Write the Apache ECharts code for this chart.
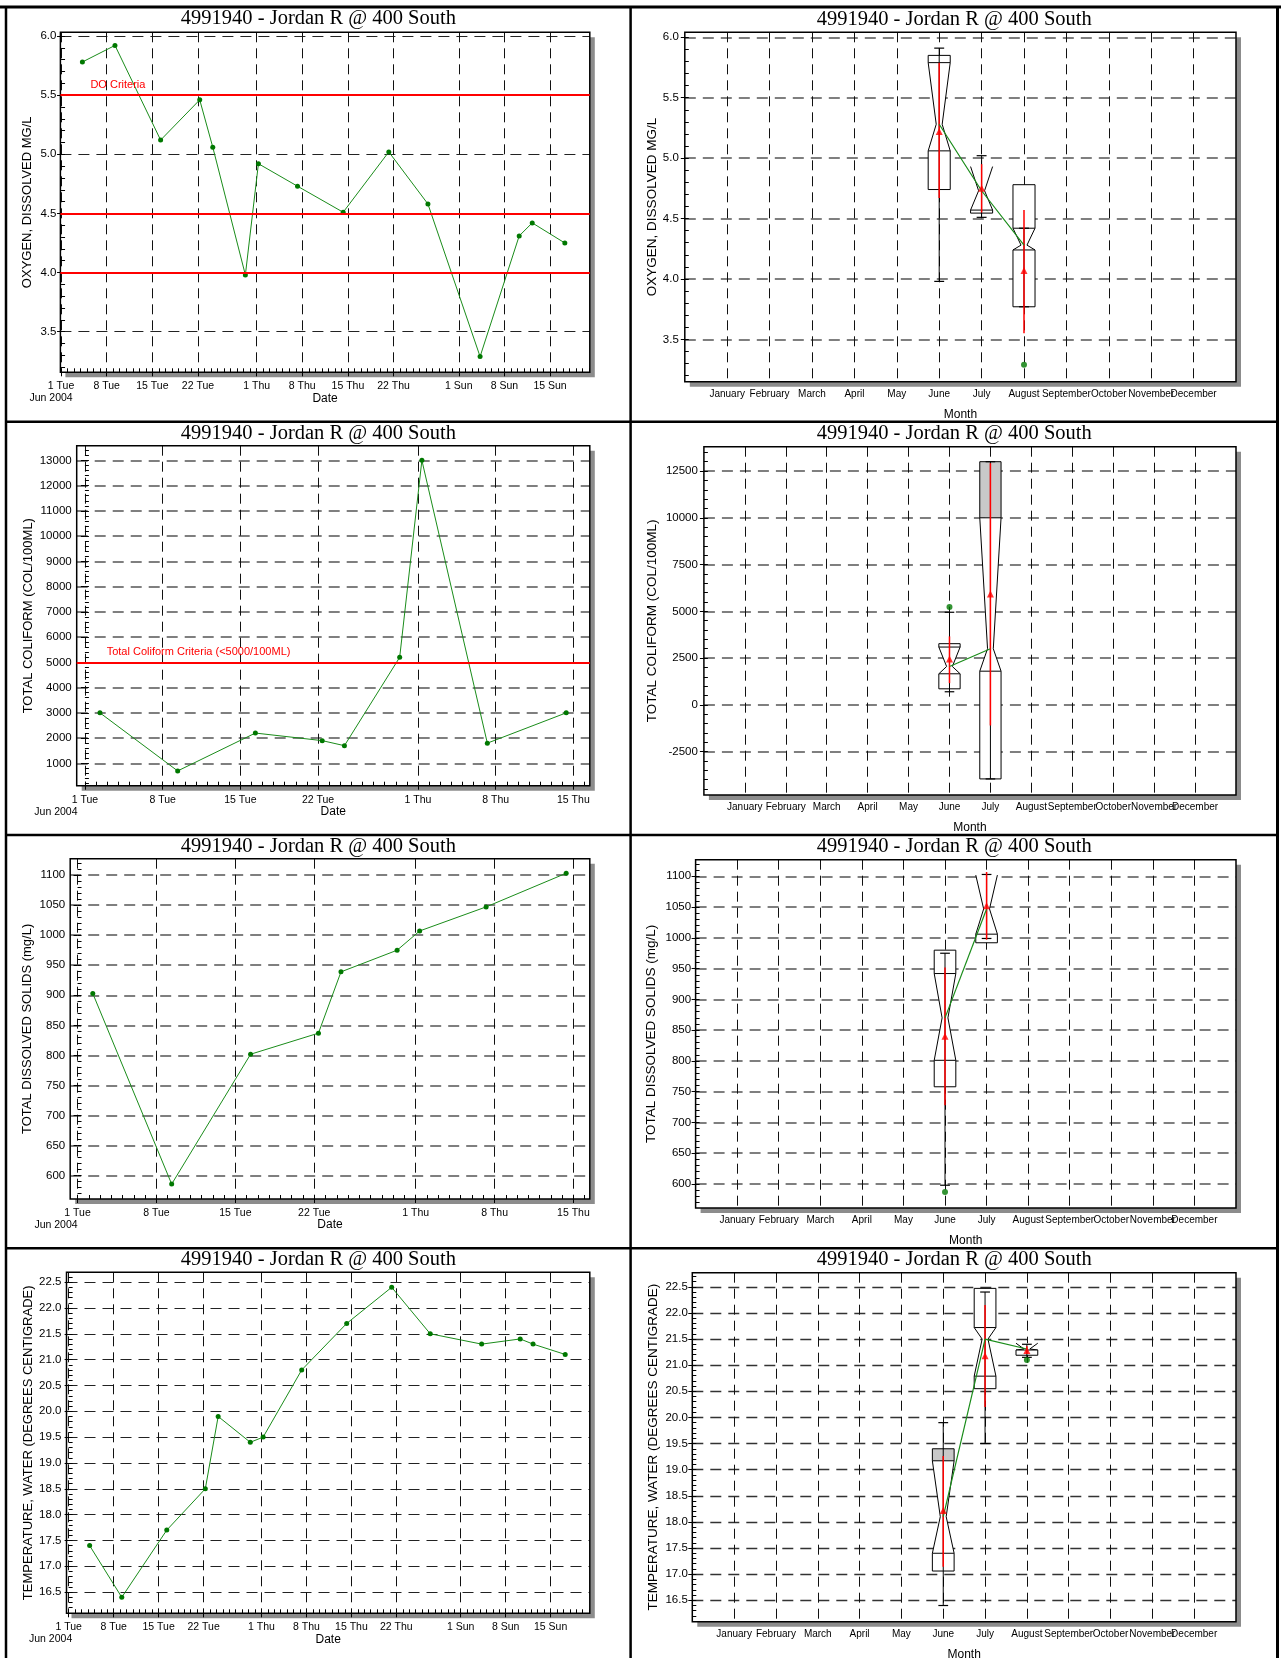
<!DOCTYPE html>
<html>
<head>
<meta charset="utf-8">
<script src="https://cdn.jsdelivr.net/npm/echarts@6/dist/echarts.min.js"></script>
<style>
  html, body { margin: 0; padding: 0; background: #fff; }
  #chart { width: 1281px; height: 1658px; }
</style>
</head>
<body>
<div id="chart"></div>
<script>
// ---- data ----
const stationTitle = '4991940 - Jordan R @ 400 South';

// field samples (DO, temperature)
const fieldDates = ['2004-06-04 06:30', '2004-06-09 06:30', '2004-06-16 06:30', '2004-06-22 06:30', '2004-06-24 06:30',
  '2004-06-29 06:30', '2004-07-01 06:30', '2004-07-07 06:30', '2004-07-14 06:30', '2004-07-21 06:30',
  '2004-07-27 06:30', '2004-08-04 06:30', '2004-08-10 06:30', '2004-08-12 06:30', '2004-08-17 06:30'];
const oxygen = [5.78, 5.92, 5.12, 5.46, 5.06, 3.98, 4.92, 4.73, 4.51, 5.02, 4.58, 3.29, 4.31, 4.42, 4.25];
const temperature = [17.4, 16.4, 17.7, 18.5, 19.9, 19.4, 19.5, 20.8, 21.7, 22.4, 21.5, 21.3, 21.4, 21.3, 21.1];

// lab samples (coliform, TDS)
const labDates = ['2004-06-02 08:30', '2004-06-09 08:30', '2004-06-16 08:30', '2004-06-22 09:00', '2004-06-24 09:00',
  '2004-06-29 08:30', '2004-07-01 08:30', '2004-07-07 06:00', '2004-07-14 08:30'];
const coliform = [3000, 700, 2200, 1900, 1700, 5200, 13000, 1800, 3000];
const dissolvedSolids = [903, 586, 802, 837, 939, 975, 1007, 1047, 1103];

const doCriteria = [5.5, 4.5, 4.0];
const coliformCriteria = [5000];

// monthly notched boxes
// month, whiskerLo, boxLo, notchLo, median, notchHi, boxHi, whiskerHi, mean, meanLo, meanHi, shaded
const oxygenBoxes = [
  [6, 3.98, 4.74, 5.06, 5.28, 5.79, 5.85, 5.91, 5.22, 4.67, 5.79, 0],
  [7, 4.51, 4.545, 4.57, 4.73, 4.93, 4.93, 5.02, 4.75, 4.55, 4.95, 0],
  [8, 3.77, 3.77, 4.24, 4.28, 4.42, 4.78, 4.42, 4.07, 3.55, 4.57, 0]
];
const coliformBoxes = [
  [6, 700, 857, 1661, 2050, 3090, 3270, 4950, 2450, 1160, 3660, 0],
  [7, -3960, -3960, 1800, 3000, 10000, 13000, 13000, 5930, -1100, 12920, 1]
];
const solidsBoxes = [
  [6, 598, 758, 801, 870, 942, 980, 975, 840, 728, 952, 0],
  [7, 999, 992, 1006, 1047, 1102, 1102, 1103, 1052, 997, 1107, 0]
];
const temperatureBoxes = [
  [6, 16.4, 17.06, 17.4, 18.1, 19.17, 19.4, 19.9, 18.22, 17.14, 19.26, 1],
  [7, 19.5, 20.55, 20.79, 21.5, 21.72, 22.47, 22.4, 21.18, 20.2, 22.15, 0],
  [8, 21.15, 21.19, 21.29, 21.31, 21.42, 21.42, 21.4, 21.28, 21.22, 21.36, 0]
];
const oxygenOutliers = [[8, 3.29]];
const coliformOutliers = [[6, 5230]];
const solidsOutliers = [[6, 587]];
const temperatureOutliers = [[8, 21.1]];

// axis ticks
const weekTickDays = [0, 7, 14, 21, 30, 37, 44, 51, 61, 68, 75];
const weekTickLabels = ['1 Tue', '8 Tue', '15 Tue', '22 Tue', '1 Thu', '8 Thu', '15 Thu', '22 Thu', '1 Sun', '8 Sun', '15 Sun'];
const firstMonthLabel = 'Jun 2004';
const monthTicks = [1, 2, 3, 4, 5, 6, 7, 8, 9, 10, 11, 12];
const monthNames = ['January', 'February', 'March', 'April', 'May', 'June', 'July', 'August', 'September', 'October', 'November', 'December'];
const oxygenTicks = [3.5, 4.0, 4.5, 5.0, 5.5, 6.0];
const coliformTicks = [1000, 2000, 3000, 4000, 5000, 6000, 7000, 8000, 9000, 10000, 11000, 12000, 13000];
const coliformBoxTicks = [-2500, 0, 2500, 5000, 7500, 10000, 12500];
const solidsTicks = [600, 650, 700, 750, 800, 850, 900, 950, 1000, 1050, 1100];
const temperatureTicks = [16.5, 17.0, 17.5, 18.0, 18.5, 19.0, 19.5, 20.0, 20.5, 21.0, 21.5, 22.0, 22.5];

// ---- helpers ----
const FONT = 'Liberation Sans, Arial, sans-serif';
const GREEN_LINE = '#1a8c1a';
const GREEN_DOT = '#007800';
const RED = '#ff0000';

function dayOf(s) {
  return (Date.parse(s.replace(' ', 'T') + ':00Z') - Date.parse('2004-06-01T00:00:00Z')) / 864e5;
}
function steps(a, b, s) {
  const out = [];
  for (let v = a; v <= b + s / 1000; v += s) out.push(Math.round(v * 1000) / 1000);
  return out;
}

const option = {
  animation: false,
  backgroundColor: '#fff',
  title: [],
  grid: [],
  xAxis: [],
  yAxis: [],
  series: [],
  graphic: []
};

function addTitle(cx, top) {
  option.title.push({
    text: stationTitle, left: cx, top: top, textAlign: 'center', padding: 0,
    textStyle: { fontFamily: 'Liberation Serif, Times New Roman, serif', fontSize: 20.5, fontWeight: 'normal', color: '#000', lineHeight: 22 }
  });
}

// grid carries the white plot face and its drop shadow; the frame is drawn on top without shadow
function addGrid(g) {
  option.grid.push({
    left: g.left, top: g.top, width: g.width, height: g.height,
    show: true, backgroundColor: '#fff', borderWidth: 0,
    shadowColor: 'rgba(0,0,0,0.45)', shadowOffsetX: 5, shadowOffsetY: 5, shadowBlur: 0,
    outerBoundsMode: 'none'
  });
  option.graphic.push({
    type: 'rect', silent: true, z: 5,
    shape: { x: g.left, y: g.top, width: g.width, height: g.height },
    style: { fill: 'none', stroke: '#000', lineWidth: 1.5 }
  });
  return option.grid.length - 1;
}

function addYAxes(gi, p) {
  const base = { type: 'value', gridIndex: gi, min: p.yMin, max: p.yMax, position: 'left', axisLine: { show: false } };
  option.yAxis.push(Object.assign({}, base, {
    name: p.yName, nameLocation: 'middle', nameGap: p.yNameGap, nameMoveOverlap: false,
    nameTextStyle: { fontFamily: FONT, fontSize: p.yNameSize, color: '#000' },
    axisTick: { show: true, inside: false, length: 4, customValues: p.yMajor, lineStyle: { color: '#000' } },
    axisLabel: {
      // blank end labels keep the real ones clear of the min/max label culling
      customValues: [p.yMin].concat(p.yMajor, [p.yMax]), margin: p.yLabelMargin, hideOverlap: false,
      color: '#000', fontFamily: FONT, fontSize: 11.5,
      formatter: function (v) { return p.yMajor.indexOf(v) < 0 ? '' : v.toFixed(p.yDecimals); }
    },
    splitLine: { show: true, lineStyle: { color: p.hColor, width: p.hWidth, type: [11, 7] } }
  }));
  const major = option.yAxis.length - 1;
  option.yAxis.push(Object.assign({}, base, {
    axisTick: { show: true, inside: true, length: 4, customValues: p.yMinor, lineStyle: { color: '#000' } },
    axisLabel: { show: false },
    splitLine: { show: false }
  }));
  return major;
}

function addDateAxes(gi, p) {
  const base = { type: 'value', gridIndex: gi, min: p.xMin, max: p.xMax, position: 'bottom', axisLine: { show: false } };
  const ticks = weekTickDays.filter(function (d) { return d <= p.xMax; });
  option.xAxis.push(Object.assign({}, base, {
    name: 'Date', nameLocation: 'middle', nameGap: 20, nameMoveOverlap: false,
    nameTextStyle: { fontFamily: FONT, fontSize: 12, color: '#000' },
    axisTick: { show: true, inside: false, length: 4, customValues: ticks, lineStyle: { color: '#000' } },
    axisLabel: {
      customValues: [p.xMin].concat(ticks, [p.xMax]), margin: 8, hideOverlap: false,
      color: '#000', fontFamily: FONT, fontSize: 10.5,
      formatter: function (v) {
        const i = weekTickDays.indexOf(v);
        if (i < 0) return '';
        return i === 0 ? '{a|' + weekTickLabels[0] + '}\n{b|' + firstMonthLabel + '}' : '{a|' + weekTickLabels[i] + '}';
      },
      rich: {
        a: { fontFamily: FONT, fontSize: 10.5, lineHeight: 12, color: '#000' },
        b: { fontFamily: FONT, fontSize: 10.5, lineHeight: 12, color: '#000', padding: [0, p.junPad, 0, 0] }
      }
    },
    splitLine: { show: true, lineStyle: { color: '#111', width: 1, type: [10, 6] } }
  }));
  const major = option.xAxis.length - 1;
  option.xAxis.push(Object.assign({}, base, {
    axisTick: { show: true, inside: true, length: 4, customValues: steps(0, Math.floor(p.xMax), 1), lineStyle: { color: '#000' } },
    axisLabel: { show: false },
    splitLine: { show: false }
  }));
  return major;
}

function addMonthAxis(gi) {
  option.xAxis.push({
    type: 'value', gridIndex: gi, min: 0, max: 13, position: 'bottom', axisLine: { show: false },
    name: 'Month', nameLocation: 'middle', nameGap: 26.5, nameMoveOverlap: false,
    nameTextStyle: { fontFamily: FONT, fontSize: 12, color: '#000' },
    axisTick: { show: false, customValues: monthTicks },
    axisLabel: {
      customValues: [0].concat(monthTicks, [13]), margin: 7.5, hideOverlap: false,
      color: '#000', fontFamily: FONT, fontSize: 10,
      formatter: function (v) { return monthNames[Math.round(v) - 1] || ''; }
    },
    splitLine: { show: true, lineStyle: { color: '#111', width: 1, type: [10, 6] } }
  });
  return option.xAxis.length - 1;
}

function criteriaLine(values, text) {
  return {
    silent: true, symbol: 'none', animation: false,
    lineStyle: { color: RED, width: 2, type: 'solid' },
    label: { show: false },
    data: values.map(function (v, i) {
      return i === 0
        ? { yAxis: v, label: { show: true, formatter: text, position: 'insideStartTop', color: RED, fontFamily: FONT, fontSize: 11, padding: [0, 0, 0, 25] } }
        : { yAxis: v };
    })
  };
}

function addTimePanel(p, dates, values, criteria, criteriaText) {
  addTitle(318.4, p.titleTop);
  const gi = addGrid(p.grid);
  const xi = addDateAxes(gi, p);
  const yi = addYAxes(gi, p);
  option.series.push({
    type: 'line', xAxisIndex: xi, yAxisIndex: yi,
    data: dates.map(function (d, i) { return [dayOf(d), values[i]]; }),
    symbol: 'circle', symbolSize: 5, showSymbol: true,
    lineStyle: { color: GREEN_LINE, width: 1 },
    itemStyle: { color: GREEN_DOT },
    markLine: criteria ? criteriaLine(criteria, criteriaText) : undefined,
    z: 3
  });
}

function renderBox(params, api) {
  const m = api.value(0);
  const cx = api.coord([m, api.value(4)])[0];
  const py = function (d) { return api.coord([m, api.value(d)])[1]; };
  const w = api.size([0.26, 0])[0];
  const p = w * 0.27;
  const cap = w * 0.45;
  const wLo = py(1), boxLo = py(2), notchLo = py(3), med = py(4), notchHi = py(5), boxHi = py(6), wHi = py(7);
  const ciLo = py(9), ciHi = py(10);
  const edge = { stroke: '#000', lineWidth: 1, fill: 'none' };
  const kids = [
    { type: 'polygon', shape: { points: [[cx - w, notchHi], [cx - p, med], [cx - w, notchLo], [cx + w, notchLo], [cx + p, med], [cx + w, notchHi]] }, style: { fill: '#fff' } },
    { type: 'polyline', shape: { points: [[cx - w, notchHi], [cx - p, med], [cx - w, notchLo]] }, style: edge },
    { type: 'polyline', shape: { points: [[cx + w, notchHi], [cx + p, med], [cx + w, notchLo]] }, style: edge }
  ];
  if (notchHi - boxHi > 0.5) {
    kids.push({ type: 'rect', shape: { x: cx - w, y: boxHi, width: 2 * w, height: notchHi - boxHi }, style: { fill: api.value(11) ? '#c8c8c8' : '#fff', stroke: '#000', lineWidth: 1 } });
  }
  if (boxLo - notchLo > 0.5) {
    kids.push({ type: 'rect', shape: { x: cx - w, y: notchLo, width: 2 * w, height: boxLo - notchLo }, style: { fill: '#fff', stroke: '#000', lineWidth: 1 } });
  }
  kids.push({ type: 'line', shape: { x1: cx, y1: wLo, x2: cx, y2: wHi }, style: { stroke: '#000', lineWidth: 1 } });
  kids.push({ type: 'line', shape: { x1: cx - cap, y1: wLo, x2: cx + cap, y2: wLo }, style: { stroke: '#000', lineWidth: 1.2 } });
  kids.push({ type: 'line', shape: { x1: cx - cap, y1: wHi, x2: cx + cap, y2: wHi }, style: { stroke: '#000', lineWidth: 1.2 } });
  kids.push({ type: 'line', shape: { x1: cx, y1: ciLo, x2: cx, y2: ciHi }, style: { stroke: RED, lineWidth: 1.5 } });
  return { type: 'group', children: kids };
}

function addBoxPanel(p, boxes, outliers) {
  addTitle(954.2, p.titleTop);
  const gi = addGrid(p.grid);
  const xi = addMonthAxis(gi);
  const yi = addYAxes(gi, p);
  option.series.push({
    type: 'custom', xAxisIndex: xi, yAxisIndex: yi, renderItem: renderBox, clip: false, silent: true,
    encode: { x: 0, y: 4 }, data: boxes, z: 2
  });
  option.series.push({
    type: 'line', xAxisIndex: xi, yAxisIndex: yi, silent: true, symbol: 'none',
    lineStyle: { color: GREEN_LINE, width: 1.2 },
    data: boxes.map(function (b) { return [b[0], b[4]]; }), z: 3
  });
  option.series.push({
    type: 'scatter', xAxisIndex: xi, yAxisIndex: yi, silent: true, symbol: 'triangle', symbolSize: 7,
    itemStyle: { color: RED }, data: boxes.map(function (b) { return [b[0], b[8]]; }), z: 4
  });
  option.series.push({
    type: 'scatter', xAxisIndex: xi, yAxisIndex: yi, silent: true, symbol: 'circle', symbolSize: 6,
    itemStyle: { color: GREEN_DOT }, data: outliers, z: 4
  });
}

// ---- panels ----
addTimePanel({
  titleTop: 8, grid: { left: 60.4, top: 32.3, width: 529.4, height: 340 },
  xMin: -0.1, xMax: 81.1, junPad: 20,
  yMin: 3.157, yMax: 6.031, yMajor: oxygenTicks, yMinor: steps(3.2, 6.0, 0.1), yDecimals: 1,
  yName: 'OXYGEN, DISSOLVED MG/L', yNameGap: 26, yNameSize: 13, yLabelMargin: 4, hColor: '#222', hWidth: 1.2
}, fieldDates, oxygen, doCriteria, 'DO Criteria');

addBoxPanel({
  titleTop: 9, grid: { left: 684.8, top: 32.3, width: 551.2, height: 349.4 },
  yMin: 3.150, yMax: 6.041, yMajor: oxygenTicks, yMinor: steps(3.2, 6.0, 0.1), yDecimals: 1,
  yName: 'OXYGEN, DISSOLVED MG/L', yNameGap: 26, yNameSize: 13.5, yLabelMargin: 6, hColor: '#555', hWidth: 1.6
}, oxygenBoxes, oxygenOutliers);

addTimePanel({
  titleTop: 422.3, grid: { left: 76.7, top: 445.7, width: 513.1, height: 340 },
  xMin: -0.74, xMax: 45.48, junPad: 58,
  yMin: 115, yMax: 13581, yMajor: coliformTicks, yMinor: steps(200, 13400, 200), yDecimals: 0,
  yName: 'TOTAL COLIFORM (COL/100ML)', yNameGap: 42, yNameSize: 13, yLabelMargin: 5, hColor: '#555', hWidth: 1.6
}, labDates, coliform, coliformCriteria, 'Total Coliform Criteria (<5000/100ML)');

addBoxPanel({
  titleTop: 422.3, grid: { left: 703.9, top: 446.7, width: 532.1, height: 348.3 },
  yMin: -4820, yMax: 13802, yMajor: coliformBoxTicks, yMinor: steps(-4500, 13500, 500), yDecimals: 0,
  yName: 'TOTAL COLIFORM (COL/100ML)', yNameGap: 45, yNameSize: 13.5, yLabelMargin: 6, hColor: '#555', hWidth: 1.6
}, coliformBoxes, coliformOutliers);

addTimePanel({
  titleTop: 835.3, grid: { left: 70.2, top: 858.7, width: 519.6, height: 340.3 },
  xMin: -0.65, xMax: 45.45, junPad: 43,
  yMin: 561.2, yMax: 1127.2, yMajor: solidsTicks, yMinor: steps(570, 1120, 10), yDecimals: 0,
  yName: 'TOTAL DISSOLVED SOLIDS (mg/L)', yNameGap: 36, yNameSize: 13, yLabelMargin: 5, hColor: '#555', hWidth: 1.6
}, labDates, dissolvedSolids, null, '');

addBoxPanel({
  titleTop: 836, grid: { left: 695.6, top: 859.7, width: 540.4, height: 348.3 },
  yMin: 561, yMax: 1127, yMajor: solidsTicks, yMinor: steps(570, 1120, 10), yDecimals: 0,
  yName: 'TOTAL DISSOLVED SOLIDS (mg/L)', yNameGap: 37, yNameSize: 13.5, yLabelMargin: 4.5, hColor: '#555', hWidth: 1.6
}, solidsBoxes, solidsOutliers);

addTimePanel({
  titleTop: 1249, grid: { left: 66.5, top: 1272.3, width: 523.3, height: 341 },
  xMin: -0.33, xMax: 81.1, junPad: 36,
  yMin: 16.09, yMax: 22.69, yMajor: temperatureTicks, yMinor: steps(16.1, 22.6, 0.1), yDecimals: 1,
  yName: 'TEMPERATURE, WATER (DEGREES CENTIGRADE)', yNameGap: 32, yNameSize: 13, yLabelMargin: 5, hColor: '#222', hWidth: 1.2
}, fieldDates, temperature, null, '');

addBoxPanel({
  titleTop: 1249, grid: { left: 692.3, top: 1272.7, width: 543.7, height: 349 },
  yMin: 16.09, yMax: 22.77, yMajor: temperatureTicks, yMinor: steps(16.1, 22.7, 0.1), yDecimals: 1,
  yName: 'TEMPERATURE, WATER (DEGREES CENTIGRADE)', yNameGap: 32, yNameSize: 13.5, yLabelMargin: 4.5, hColor: '#333', hWidth: 1.4
}, temperatureBoxes, temperatureOutliers);

// ---- page frame ----
function frameLine(x1, y1, x2, y2, w) {
  option.graphic.push({ type: 'line', silent: true, z: 10, shape: { x1: x1, y1: y1, x2: x2, y2: y2 }, style: { stroke: '#000', lineWidth: w } });
}
frameLine(0, 7, 1281, 7, 3);
frameLine(6, 7, 6, 1658, 2.5);
frameLine(630.6, 7, 630.6, 1658, 2.5);
frameLine(1277.5, 7, 1277.5, 1658, 3);
frameLine(6, 421.7, 1277.5, 421.7, 2.5);
frameLine(6, 835, 1277.5, 835, 2.5);
frameLine(6, 1248.3, 1277.5, 1248.3, 2.5);

const chart = echarts.init(document.getElementById('chart'), null, { renderer: 'canvas' });
chart.setOption(option);
</script>
</body>
</html>
